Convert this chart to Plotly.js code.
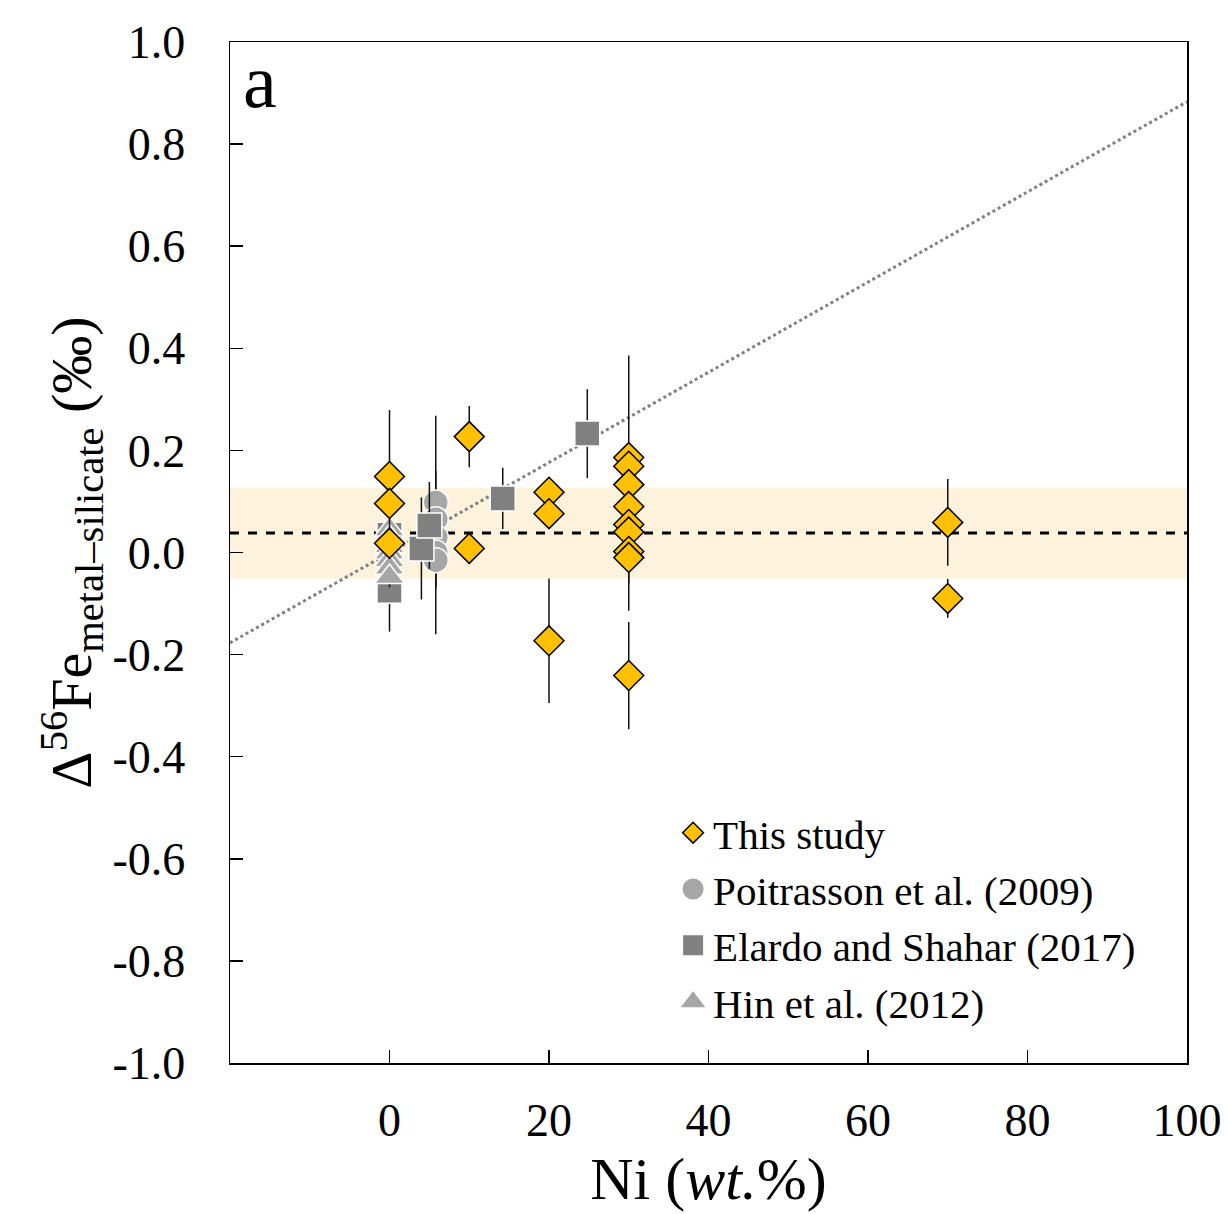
<!DOCTYPE html>
<html>
<head>
<meta charset="utf-8">
<script src="https://cdn.plot.ly/plotly-3.0.1.min.js"></script>
<style>html,body{margin:0;padding:0;background:#fff;}#chart{width:1227px;height:1214px;}</style>
</head>
<body>
<div id="chart"></div>
<script>
// This study
const thisX   = [0, 0, 0, 10, 10, 20, 20, 20, 30, 30, 30, 30, 30, 30, 30, 30, 30, 70, 70];
const thisY   = [0.149, 0.096, 0.018, 0.227, 0.008, 0.118, 0.076, -0.173, 0.186, 0.169, 0.133, 0.090, 0.055, 0.040, 0.002, -0.010, -0.241, 0.059, -0.090];
const thisErr = [0.13, 0.03, 0.03, 0.06, 0.03, 0.02, 0.03, 0.122, 0.20, 0.03, 0.03, 0.03, 0.05, 0.03, 0.116, 0.05, 0.105, 0.085, 0.038];
// Poitrasson et al. (2009)
const poiX   = [5.8, 5.8, 5.8, 5.8, 5.8];
const poiY   = [0.098, 0.065, 0.030, 0.000, -0.015];
const poiErr = [0.17, 0.05, 0.06, 0.16, 0.05];
// Elardo and Shahar (2017)
const elaX   = [0, 0, 4, 5, 14.2, 24.8];
const elaY   = [0.035, -0.075, 0.008, 0.053, 0.106, 0.233];
const elaErr = [0.05, 0.08, 0.10, 0.085, 0.06, 0.087];
// Hin et al. (2012)
const hinX   = [0, 0, 0, 0, 0, 0, 0];
const hinY   = [0.045, 0.030, 0.012, 0.000, -0.015, -0.030, -0.048];
const hinErr = [0.02, 0.02, 0.02, 0.02, 0.02, 0.02, 0.02];
// Mean line and band
const meanX = [-20, 100];
const meanY = [0.038, 0.038];
const bandLow = -0.051;
const bandHigh = 0.127;
// Regression line
const fitX = [-20, 100];
const fitY = [-0.177, 0.883];
// Ticks
const xTicks = [0, 20, 40, 60, 80, 100];
const yTicks = [-1.0, -0.8, -0.6, -0.4, -0.2, 0.0, 0.2, 0.4, 0.6, 0.8, 1.0];
const yTickText = ['-1.0', '-0.8', '-0.6', '-0.4', '-0.2', '0.0', '0.2', '0.4', '0.6', '0.8', '1.0'];
// Legend
const legendNames = ['This study', 'Poitrasson et al. (2009)', 'Elardo and Shahar (2017)', 'Hin et al. (2012)'];

const FONT = 'Liberation Serif, Times New Roman, serif';
const errStyle = {type: 'data', visible: true, thickness: 1.5, width: 0, color: '#111'};

const traces = [
  {x: fitX, y: fitY, mode: 'lines', line: {color: '#808080', width: 3, dash: 'dot'}, showlegend: false, hoverinfo: 'skip'},
  {x: meanX, y: meanY, mode: 'lines', line: {color: '#000', width: 3, dash: 'dash'}, showlegend: false, hoverinfo: 'skip'},
  {x: poiX, y: poiY, mode: 'markers', showlegend: false,
   error_y: Object.assign({array: poiErr}, errStyle),
   marker: {symbol: 'circle', size: 25, color: '#a6a6a6', line: {color: '#fff', width: 1.5}}},
  {x: elaX, y: elaY, mode: 'markers', showlegend: false,
   error_y: Object.assign({array: elaErr}, errStyle),
   marker: {symbol: 'square', size: 25, color: '#808080', line: {color: '#fff', width: 1.5}}},
  {x: hinX, y: hinY, mode: 'markers', showlegend: false,
   error_y: Object.assign({array: hinErr}, errStyle),
   marker: {symbol: 'triangle-up', size: 26, color: '#a6a6a6', line: {color: '#fff', width: 1.5}}},
  {x: thisX, y: thisY, mode: 'markers', showlegend: false,
   error_y: Object.assign({array: thisErr}, errStyle),
   marker: {symbol: 'diamond', size: 23, color: '#FFC000', line: {color: '#000', width: 1.5}}},
  // legend entries
  {x: [null], y: [null], mode: 'markers', name: legendNames[0], legendrank: 1,
   marker: {symbol: 'diamond', size: 16, color: '#FFC000', line: {color: '#000', width: 1.5}}},
  {x: [null], y: [null], mode: 'markers', name: legendNames[1], legendrank: 2,
   marker: {symbol: 'circle', size: 16, color: '#a6a6a6', line: {color: '#a6a6a6', width: 5}}},
  {x: [null], y: [null], mode: 'markers', name: legendNames[2], legendrank: 3,
   marker: {symbol: 'square', size: 16, color: '#808080', line: {color: '#808080', width: 4}}},
  {x: [null], y: [null], mode: 'markers', name: legendNames[3], legendrank: 4,
   marker: {symbol: 'triangle-up', size: 16, color: '#a6a6a6', line: {color: '#a6a6a6', width: 3}}}
];

const layout = {
  width: 1227, height: 1214,
  margin: {l: 230, r: 40, t: 42, b: 151},
  paper_bgcolor: '#fff', plot_bgcolor: '#fff',
  font: {family: FONT, color: '#000', size: 46},
  showlegend: true,
  legend: {x: 0.463, y: 0.258, xanchor: 'left', yanchor: 'top', bgcolor: 'rgba(0,0,0,0)',
           font: {family: FONT, size: 41, color: '#000'}, tracegroupgap: 0, itemwidth: 30},
  xaxis: {
    range: [-20, 100], tickvals: xTicks, ticktext: xTicks.map(String),
    ticks: 'inside', ticklen: 13, tickwidth: 1.5, tickcolor: '#000',
    showline: true, linecolor: '#000', linewidth: 1.5, mirror: true,
    showgrid: false, zeroline: false, ticklabelstandoff: 16,
    tickfont: {family: FONT, size: 46, color: '#000'},
    title: {text: 'Ni (<i>wt.</i>%)', font: {family: FONT, size: 60, color: '#000'}, standoff: 8}
  },
  yaxis: {
    range: [-1.0, 1.0], tickvals: yTicks, ticktext: yTickText,
    ticks: 'inside', ticklen: 13, tickwidth: 1.5, tickcolor: '#000',
    showline: true, linecolor: '#000', linewidth: 1.5, mirror: true,
    showgrid: false, zeroline: false, ticklabelstandoff: 34,
    tickfont: {family: FONT, size: 46, color: '#000'},
    title: {text: 'Δ<sup>56</sup>Fe<sub>metal–silicate</sub> (‰)', font: {family: FONT, size: 58, color: '#000'}, standoff: 2}
  },
  shapes: [
    {type: 'rect', xref: 'paper', yref: 'y', x0: 0, x1: 1, y0: bandLow, y1: bandHigh,
     fillcolor: '#fdf2dc', line: {width: 0}, layer: 'below'}
  ],
  annotations: [
    {text: 'a', xref: 'paper', yref: 'paper', x: 0.012, y: 0.962, xanchor: 'left', yanchor: 'middle',
     showarrow: false, font: {family: FONT, size: 76, color: '#000'}}
  ]
};

Plotly.newPlot('chart', traces, layout, {displayModeBar: false, staticPlot: true});
</script>
</body>
</html>
